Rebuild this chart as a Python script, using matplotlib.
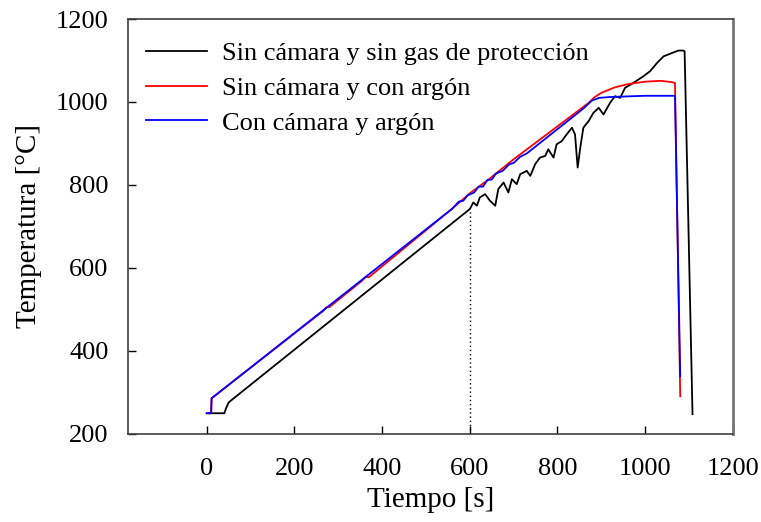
import matplotlib
matplotlib.use("Agg")
import matplotlib.pyplot as plt

plt.rcParams['font.family'] = ['Liberation Serif', 'DejaVu Serif']

# Sin cámara y sin gas de protección (black)
t_black = [0, 40, 44, 50, 58, 600, 608, 616, 623, 635, 646, 658, 665, 677, 688, 696,
           707, 715, 730, 738, 749, 760, 772, 779, 791, 798, 810, 821, 833, 840, 846,
           852, 859, 871, 882, 894, 905, 920, 931, 943, 954, 973, 996, 1011, 1027,
           1042, 1061, 1076, 1087, 1090, 1108]
T_black = [250, 250, 262, 276, 283, 742, 758, 750, 770, 778, 762, 750, 790, 806, 782, 814,
           802, 826, 834, 822, 850, 866, 870, 886, 866, 898, 906, 922, 938, 922, 842,
           890, 938, 954, 974, 986, 970, 998, 1014, 1010, 1034, 1046, 1062, 1074, 1094,
           1110, 1118, 1124, 1124, 1122, 248]

# Sin cámara y con argón (red)
t_red = [0, 10, 11, 265, 272, 280, 355, 362, 370, 560, 600, 640, 700, 870, 885, 900, 930,
         960, 1000, 1035, 1060, 1068, 1080]
T_red = [250, 250, 286, 496, 505, 506, 570, 578, 578, 743, 780, 811, 862, 997, 1012, 1022, 1035,
         1043, 1049, 1051, 1048, 1046, 291]

# Con cámara y argón (blue)
t_blue = [0, 10, 11, 560, 575, 585, 595, 610, 620, 630, 640, 650, 660, 675, 690, 700, 715,
          730, 860, 878, 895, 920, 1000, 1068, 1080]
T_blue = [250, 250, 286, 743, 760, 762, 775, 782, 796, 796, 812, 813, 828, 834, 850, 853, 868,
          876, 985, 1003, 1010, 1012, 1015, 1015, 339]

fig = plt.figure(figsize=(7.61, 5.22), dpi=100)
ax = fig.add_axes([0.168, 0.1686, 0.795, 0.795])

ax.plot(t_black, T_black, color='black', lw=1.3, label='Sin cámara y sin gas de protección')
ax.plot(t_red, T_red, color='#ff0000', lw=1.3, label='Sin cámara y con argón')
ax.plot(t_blue, T_blue, color='#0000ff', lw=1.3, label='Con cámara y argón')
ax.plot([600, 600], [200, 742], color='black', lw=1.0, ls=(0, (1, 2)))

ax.set_xlim(-180, 1200)
ax.set_ylim(200, 1200)
ax.set_xticks([0, 200, 400, 600, 800, 1000, 1200])
ax.set_yticks([200, 400, 600, 800, 1000, 1200])
ax.tick_params(direction='in', length=6, width=1, labelsize=19, colors='black')
ax.tick_params(axis='x', pad=17)
ax.tick_params(axis='y', pad=14)
for s in ax.spines.values():
    s.set_color('#404040')
    s.set_linewidth(1.2)
ax.spines['right'].set_color('#777777')
ax.spines['right'].set_linewidth(2)

ax.set_xlabel('Tiempo [s]', fontsize=21, labelpad=5)
ax.set_ylabel('Temperatura [°C]', fontsize=21, labelpad=10)

ax.legend(loc='upper left', frameon=False, fontsize=19, handlelength=2.3,
          handletextpad=0.55, labelspacing=0.43, borderaxespad=0.3,
          bbox_to_anchor=(0.0, 0.99))

fig.savefig('out.png', dpi=100)
